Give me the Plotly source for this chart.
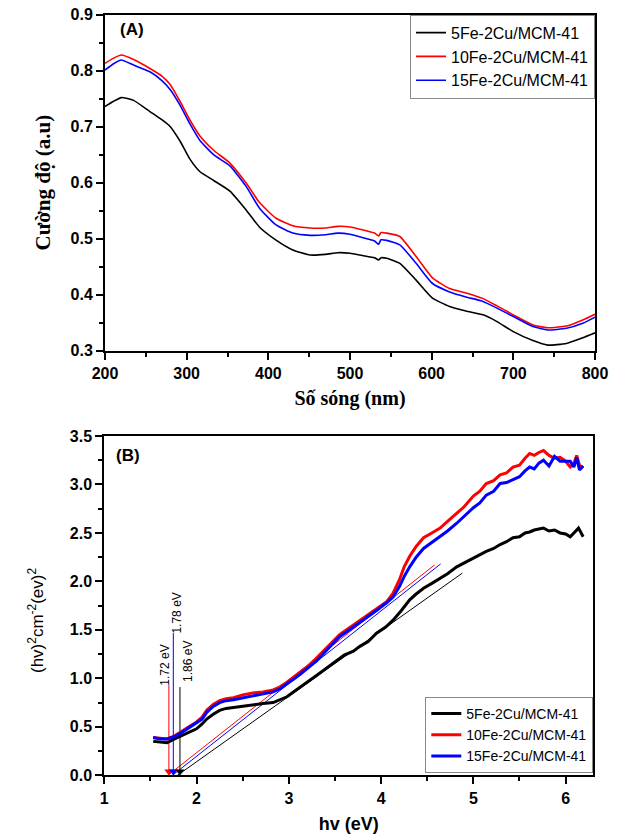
import plotly.graph_objects as go

# ---------------- Panel A data ----------------
wl = [200, 210, 220, 235, 255, 270, 280, 292, 304, 316, 333, 353, 373, 389, 409, 430, 451,
      470, 485, 500, 515, 530, 535, 538, 545, 561, 581, 601, 622, 642, 663, 680, 700, 724,
      742, 765, 785, 800]
a_5fe = [0.736, 0.745, 0.752, 0.747, 0.727, 0.712, 0.700, 0.674, 0.642, 0.620, 0.604, 0.585,
         0.551, 0.521, 0.498, 0.480, 0.471, 0.472, 0.475, 0.474, 0.470, 0.466, 0.462, 0.466,
         0.465, 0.456, 0.426, 0.394, 0.379, 0.371, 0.364, 0.352, 0.334, 0.318, 0.310, 0.313,
         0.323, 0.332]
a_10fe = [0.813, 0.822, 0.828, 0.820, 0.804, 0.790, 0.775, 0.745, 0.712, 0.684, 0.658, 0.635,
          0.599, 0.565, 0.537, 0.523, 0.519, 0.519, 0.522, 0.521, 0.516, 0.510, 0.505, 0.511,
          0.510, 0.504, 0.468, 0.430, 0.411, 0.403, 0.393, 0.380, 0.364, 0.346, 0.341, 0.344,
          0.355, 0.365]
a_15fe = [0.801, 0.812, 0.819, 0.810, 0.798, 0.782, 0.766, 0.738, 0.705, 0.676, 0.650, 0.630,
          0.593, 0.555, 0.525, 0.510, 0.506, 0.507, 0.510, 0.508, 0.502, 0.496, 0.490, 0.498,
          0.497, 0.489, 0.456, 0.420, 0.405, 0.396, 0.388, 0.376, 0.361, 0.343, 0.337, 0.340,
          0.349, 0.360]

# ---------------- Panel B data ----------------
ev = [1.53, 1.60, 1.68, 1.75, 1.82, 1.90, 2.00, 2.06, 2.11, 2.18, 2.25, 2.32, 2.40, 2.50, 2.61,
      2.72, 2.83, 2.90, 2.98, 3.05, 3.12, 3.20, 3.30, 3.42, 3.55, 3.70, 3.84, 3.95, 4.06, 4.13,
      4.20, 4.25, 4.31, 4.38, 4.46, 4.55, 4.64, 4.72, 4.82, 4.90, 5.00, 5.07, 5.14, 5.22, 5.29,
      5.36, 5.43, 5.50, 5.56, 5.61, 5.66, 5.71, 5.76, 5.82, 5.88, 5.94, 6.00, 6.05, 6.09, 6.12,
      6.15, 6.19]
b_10fe = [0.39, 0.38, 0.375, 0.40, 0.445, 0.49, 0.55, 0.60, 0.67, 0.73, 0.77, 0.79, 0.80, 0.83,
          0.85, 0.86, 0.88, 0.91, 0.96, 1.01, 1.06, 1.12, 1.21, 1.33, 1.45, 1.55, 1.64, 1.71,
          1.79, 1.88, 2.02, 2.15, 2.26, 2.36, 2.45, 2.50, 2.55, 2.62, 2.70, 2.77, 2.88, 2.93,
          3.01, 3.04, 3.10, 3.12, 3.18, 3.20, 3.27, 3.32, 3.30, 3.33, 3.35, 3.30, 3.27, 3.28,
          3.24, 3.18, 3.22, 3.30, 3.20, 3.17]
b_15fe = [0.39, 0.375, 0.375, 0.395, 0.43, 0.48, 0.54, 0.58, 0.65, 0.71, 0.75, 0.77, 0.78, 0.80,
          0.82, 0.84, 0.86, 0.89, 0.94, 0.99, 1.04, 1.10, 1.18, 1.30, 1.43, 1.53, 1.62, 1.70,
          1.78, 1.84, 1.95, 2.05, 2.15, 2.25, 2.34, 2.40, 2.46, 2.52, 2.60, 2.67, 2.76, 2.81,
          2.89, 2.93, 3.01, 3.02, 3.05, 3.08, 3.14, 3.18, 3.16, 3.22, 3.25, 3.19, 3.29, 3.24,
          3.24, 3.24, 3.18, 3.28, 3.15, 3.19]
ev_5fe = [1.53, 1.60, 1.68, 1.75, 1.82, 1.90, 2.00, 2.06, 2.11, 2.18, 2.25, 2.32, 2.40, 2.50,
          2.61, 2.72, 2.83, 2.90, 2.98, 3.05, 3.12, 3.20, 3.30, 3.40, 3.48, 3.60, 3.70, 3.77,
          3.86, 3.95, 4.05, 4.13, 4.22, 4.31, 4.38, 4.46, 4.55, 4.64, 4.72, 4.82, 4.90, 5.00,
          5.07, 5.14, 5.22, 5.29, 5.36, 5.43, 5.50, 5.56, 5.61, 5.66, 5.71, 5.76, 5.82, 5.88,
          5.94, 6.00, 6.05, 6.09, 6.14, 6.19]
b_5fe = [0.35, 0.34, 0.335, 0.37, 0.40, 0.44, 0.48, 0.53, 0.58, 0.63, 0.67, 0.69, 0.70, 0.72,
         0.73, 0.74, 0.75, 0.78, 0.81, 0.86, 0.91, 0.96, 1.03, 1.10, 1.16, 1.24, 1.28, 1.33,
         1.38, 1.465, 1.53, 1.60, 1.70, 1.81, 1.87, 1.93, 1.98, 2.03, 2.08, 2.15, 2.19, 2.24,
         2.27, 2.31, 2.34, 2.38, 2.41, 2.45, 2.46, 2.50, 2.51, 2.53, 2.54, 2.55, 2.52, 2.53,
         2.50, 2.49, 2.46, 2.50, 2.55, 2.46]

# tangent (Tauc) lines: endpoints
tan_5fe_x = [1.71, 4.88]
tan_5fe_y = [-0.056, 2.085]
tan_10fe_x = [1.615, 4.58]
tan_10fe_y = [-0.056, 2.17]
tan_15fe_x = [1.56, 4.645]
tan_15fe_y = [-0.134, 2.18]

# band-gap markers (order: 10Fe, 15Fe, 5Fe)
gap_labels = ["1.72 eV", "1.78 eV", "1.86 eV"]
gap_colors = ["#ff0000", "#0000ff", "#000000"]
arrow_x = [1.70, 1.748, 1.82]
arrow_top = [0.93, 1.47, 0.91]
arrow_tip = [0.04, 0.04, 0.04]
label_x = [1.657, 1.784, 1.907]
label_y = [1.14, 1.675, 1.18]

names = ["5Fe-2Cu/MCM-41", "10Fe-2Cu/MCM-41", "15Fe-2Cu/MCM-41"]
colors = ["#000000", "#ff0000", "#0000ff"]

W, H = 624, 839

fig = go.Figure()

# Panel A traces
for yv, nm, c in zip([a_5fe, a_10fe, a_15fe], names, colors):
    fig.add_trace(go.Scatter(x=wl, y=yv, mode="lines", name=nm,
                             line=dict(color=c, width=1.6, shape="spline", smoothing=0.5),
                             xaxis="x", yaxis="y", legend="legend"))

# Panel B tangent lines
for tx, ty, c in zip([tan_5fe_x, tan_10fe_x, tan_15fe_x],
                     [tan_5fe_y, tan_10fe_y, tan_15fe_y], colors):
    fig.add_trace(go.Scatter(x=tx, y=ty, mode="lines", showlegend=False,
                             line=dict(color=c, width=1),
                             xaxis="x2", yaxis="y2"))

# Band-gap arrows (vertical line + arrow head)
for axx, top, tip, c in zip(arrow_x, arrow_top, arrow_tip, gap_colors):
    fig.add_trace(go.Scatter(x=[axx, axx], y=[top, tip], mode="lines", showlegend=False,
                             line=dict(color=c, width=1), xaxis="x2", yaxis="y2"))
    fig.add_trace(go.Scatter(x=[axx], y=[tip], mode="markers", showlegend=False,
                             marker=dict(symbol="triangle-down", size=8, color=c),
                             cliponaxis=False, xaxis="x2", yaxis="y2"))

# Panel B curves
for xv, yv, nm, c in zip([ev_5fe, ev, ev], [b_5fe, b_10fe, b_15fe], names, colors):
    fig.add_trace(go.Scatter(x=xv, y=yv, mode="lines", name=nm,
                             line=dict(color=c, width=3),
                             xaxis="x2", yaxis="y2", legend="legend2"))

annotations = []
for lab, lx, ly in zip(gap_labels, label_x, label_y):
    annotations.append(dict(x=lx, y=ly, xref="x2", yref="y2", text=lab, showarrow=False,
                            textangle=-90, xanchor="center", yanchor="middle",
                            font=dict(family="Arial, Liberation Sans", size=12, color="black")))

annotations.append(dict(x=132 / W, y=1 - 30 / H, xref="paper", yref="paper", text="<b>(A)</b>",
                        showarrow=False, xanchor="center", yanchor="middle",
                        font=dict(family="Arial, Liberation Sans", size=17, color="black")))
annotations.append(dict(x=128 / W, y=1 - 455 / H, xref="paper", yref="paper", text="<b>(B)</b>",
                        showarrow=False, xanchor="center", yanchor="middle",
                        font=dict(family="Arial, Liberation Sans", size=17, color="black")))
# y title of panel B (placed to match the reference position)
annotations.append(dict(x=36 / W, y=1 - 621 / H, xref="paper", yref="paper",
                        text="(hv)<sup>2</sup>cm<sup>-2</sup>(ev)<sup>2</sup>",
                        showarrow=False, textangle=-90, xanchor="center", yanchor="middle",
                        font=dict(family="Arial, Liberation Sans", size=17, color="black")))

tickfont = dict(family="Arial, Liberation Sans", size=16, color="black", weight="bold")
ax_common = dict(showline=True, linecolor="black", linewidth=2, mirror=True, ticks="outside",
                 ticklen=7, tickwidth=2, tickcolor="black", showgrid=False, zeroline=False,
                 tickfont=tickfont, automargin=False)

fig.update_layout(
    width=W, height=H, margin=dict(l=0, r=0, t=0, b=0, autoexpand=False),
    paper_bgcolor="white", plot_bgcolor="white",
    xaxis=dict(domain=[105 / W, 595 / W], range=[200, 800], dtick=100, anchor="y",
               minor=dict(dtick=50, ticks="outside", ticklen=4, tickwidth=2, tickcolor="black"),
               title=dict(text="<b>Số sóng (nm)</b>", standoff=10,
                          font=dict(family="Times New Roman, Liberation Serif", size=20,
                                    color="black")),
               **ax_common),
    yaxis=dict(domain=[1 - 350.7 / H, 1 - 14.7 / H], range=[0.3, 0.9], dtick=0.1,
               tickformat=".1f", anchor="x",
               minor=dict(dtick=0.05, ticks="outside", ticklen=4, tickwidth=2, tickcolor="black"),
               title=dict(text="<b>Cường độ (a.u)</b>", standoff=14,
                          font=dict(family="Times New Roman, Liberation Serif", size=21,
                                    color="black")),
               **ax_common),
    xaxis2=dict(domain=[104.3 / W, 593.3 / W], range=[1, 6.3], dtick=1, anchor="y2",
                minor=dict(dtick=0.5, ticks="outside", ticklen=4, tickwidth=2, tickcolor="black"),
                title=dict(text="<b>hv (eV)</b>", standoff=12,
                           font=dict(family="Arial, Liberation Sans", size=18, color="black")),
                **ax_common),
    yaxis2=dict(domain=[1 - 775.3 / H, 1 - 436 / H], range=[0, 3.5], dtick=0.5,
                tickformat=".1f", anchor="x2",
                minor=dict(dtick=0.25, ticks="outside", ticklen=4, tickwidth=2, tickcolor="black"),
                **ax_common),
    legend=dict(x=595 / W, y=1 - 14.7 / H, xanchor="right", yanchor="top",
                bgcolor="white", bordercolor="#888888", borderwidth=1, tracegroupgap=0,
                font=dict(family="Arial, Liberation Sans", size=16, color="black")),
    legend2=dict(x=593.3 / W, y=1 - 773 / H, xanchor="right", yanchor="bottom",
                 bgcolor="white", bordercolor="#888888", borderwidth=1, tracegroupgap=0,
                 font=dict(family="Arial, Liberation Sans", size=14, color="black")),
    annotations=annotations,
)

fig.write_html("out.html")
